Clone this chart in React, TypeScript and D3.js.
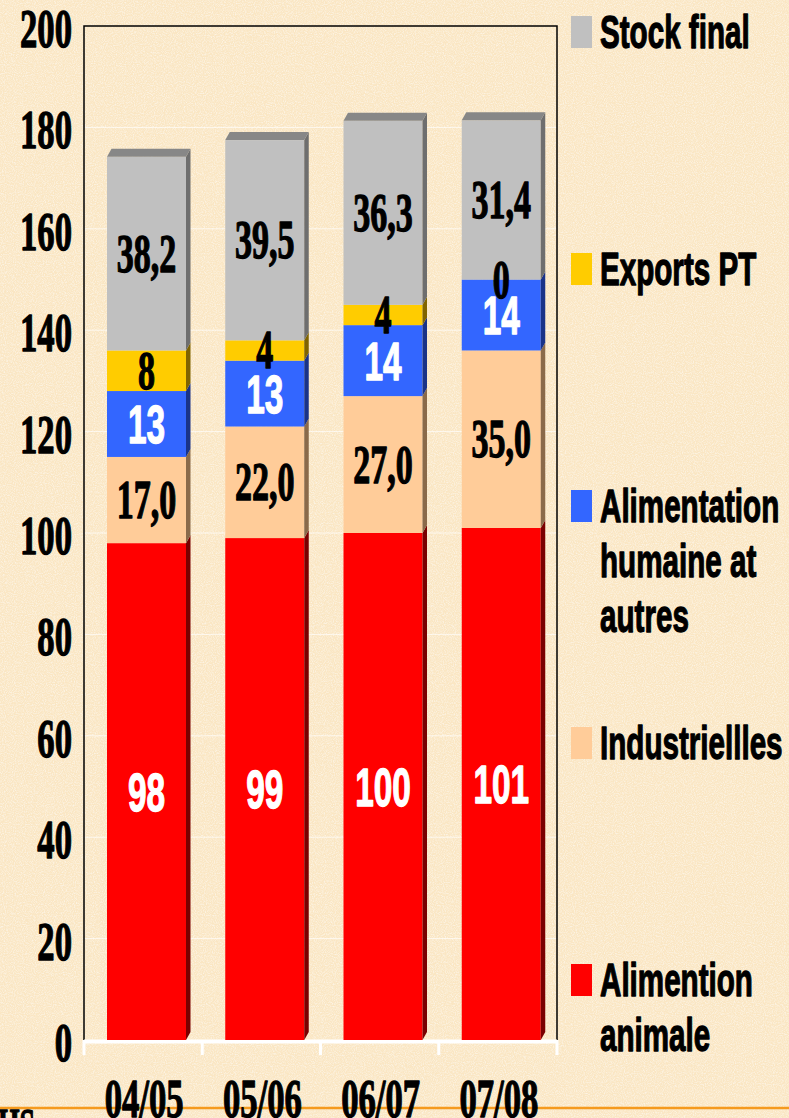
import React, { useEffect } from 'react';
import { scaleLinear, scaleBand, formatLocale, stack } from 'd3';

// campaigns
const seasons = ['04/05', '05/06', '06/07', '07/08'];

// series values, bottom to top of each bar
const alimAnimale = [98, 99, 100, 101];
const industrielles = [17.0, 22.0, 27.0, 35.0];
const alimHumaine = [13, 13, 14, 14];
const exportsPT = [8, 4, 4, 0];
const stockFinal = [38.2, 39.5, 36.3, 31.4];

const yTicks = [0, 20, 40, 60, 80, 100, 120, 140, 160, 180, 200];

const W = 789;
const H = 1118;
const SX = 0.63; // everything in the original is squeezed horizontally

const fr = formatLocale({ decimal: ',', thousands: ' ', grouping: [3], currency: ['', ''] });
const f0 = fr.format('.0f');
const f1 = fr.format('.1f');

const series = [
  { key: 'animale', name: ['Alimention', 'animale'], values: alimAnimale, fill: '#ff0000', side: '#7a0000', label: '#ffffff', sans: true, fmt: f0 },
  { key: 'indus', name: ['Industriellles'], values: industrielles, fill: '#ffcc99', side: '#8a6a4a', label: '#000000', sans: false, fmt: f1 },
  { key: 'humaine', name: ['Alimentation', 'humaine at', 'autres'], values: alimHumaine, fill: '#3366ff', side: '#1a3388', label: '#ffffff', sans: true, fmt: f0 },
  { key: 'exports', name: ['Exports PT'], values: exportsPT, fill: '#ffcc00', side: '#806400', label: '#000000', sans: false, fmt: f0 },
  { key: 'stock', name: ['Stock final'], values: stockFinal, fill: '#c0c0c0', side: '#6e6e6e', label: '#000000', sans: false, fmt: f1 },
];

const SERIF = '"Liberation Serif", "Times New Roman", serif';
const SANS = '"Liberation Sans", Arial, sans-serif';

const Txt = ({ x, y, size, family, fill = '#000', anchor = 'start', children }: any) => (
  <text
    transform={`translate(${x},${y}) scale(${SX},1)`}
    fontSize={size}
    fontFamily={family}
    fontWeight="bold"
    fill={fill}
    stroke={fill}
    strokeWidth={1.3}
    strokeLinejoin="round"
    textAnchor={anchor}
  >
    {children}
  </text>
);

const App = () => {
  useEffect(() => {
    document.body.style.margin = '0';
  }, []);

  const left = 84;
  const right = 557;
  const y = scaleLinear().domain([0, 200]).range([1040, 26]);
  const x = scaleBand().domain(seasons).range([left, right]);
  const barOff = 23;
  const barW = 79;
  const dx = 4.5;
  const dy = 8;

  const rows = seasons.map((s, i) => {
    const r: any = { season: s };
    series.forEach((se) => (r[se.key] = se.values[i]));
    return r;
  });
  const stacked = stack().keys(series.map((s) => s.key))(rows);

  return (
    <svg width={W} height={H} style={{ display: 'block' }} xmlns="http://www.w3.org/2000/svg">
      <defs>
        <filter id="grain" x="0" y="0" width="100%" height="100%">
          <feTurbulence type="fractalNoise" baseFrequency="0.9" numOctaves="2" seed="3" result="n" />
          <feColorMatrix
            in="n"
            type="matrix"
            values="0 0 0 0 1  0 0 0 0 1  0 0 0 0 1  0 0 0 -2.2 1.35"
          />
        </filter>
      </defs>
      <rect width={W} height={H} fill="#fae6c3" />
      <rect width={W} height={H} filter="url(#grain)" opacity={0.55} />

      {/* gridlines */}
      {yTicks.filter((t) => t > 0 && t < 200).map((t) => (
        <line key={t} x1={left} x2={right} y1={y(t)} y2={y(t)} stroke="#ffffff" strokeOpacity={0.7} strokeWidth={1} />
      ))}

      {/* frame */}
      <path d={`M${left},${y(0)}V${y(200)}H${right}V${y(0)}`} fill="none" stroke="#000" strokeWidth={1.5} />

      {/* floor */}
      <line x1={left} x2={right} y1={y(0) + 1.5} y2={y(0) + 1.5} stroke="#ffffff" strokeWidth={4} />
      {[...seasons.map((s) => x(s) as number), right].map((v, i) => (
        <line key={i} x1={v} x2={v} y1={y(0)} y2={y(0) + 15} stroke="#ffffff" strokeWidth={3} />
      ))}

      {/* bars */}
      {stacked.map((layer, li) => {
        const se = series[li];
        return (
          <g key={se.key}>
            {layer.map((d, i) => {
              const x0 = (x(seasons[i]) as number) + barOff;
              const x1 = x0 + barW;
              const yt = y(d[1]);
              const yb = y(d[0]);
              if (d[1] - d[0] <= 0) return null;
              return (
                <g key={i}>
                  <rect x={x0} y={yt} width={barW} height={yb - yt} fill={se.fill} />
                  <path d={`M${x1},${yb}L${x1 + dx},${yb - dy}V${yt - dy}L${x1},${yt}Z`} fill={se.side} />
                  {li === series.length - 1 && (
                    <path d={`M${x0},${yt}L${x0 + dx},${yt - dy}H${x1 + dx}L${x1},${yt}Z`} fill="#878787" />
                  )}
                </g>
              );
            })}
          </g>
        );
      })}

      {/* data labels */}
      {stacked.map((layer, li) => {
        const se = series[li];
        return (
          <g key={se.key}>
            {layer.map((d, i) => {
              const cx = (x(seasons[i]) as number) + barOff + barW / 2;
              const cy = y((d[0] + d[1]) / 2);
              return (
                <Txt
                  key={i}
                  x={cx}
                  y={cy + (se.sans ? 19 : 18)}
                  size={se.sans ? 53 : 54}
                  family={se.sans ? SANS : SERIF}
                  fill={se.label}
                  anchor="middle"
                >
                  {se.fmt(se.values[i])}
                </Txt>
              );
            })}
          </g>
        );
      })}

      {/* y axis labels */}
      {yTicks.map((t) => (
        <Txt key={t} x={72} y={y(t) + 21} size={55} family={SERIF} anchor="end">
          {t}
        </Txt>
      ))}

      {/* bottom rule */}
      <line x1={0} x2={W} y1={1108} y2={1108} stroke="#f59a1e" strokeWidth={2.5} />
      <Txt x={-2} y={1139} size={44} family={SERIF} anchor="start">HS</Txt>

      {/* x labels */}
      {seasons.map((s) => (
        <Txt key={s} x={(x(s) as number) + x.bandwidth() / 2 + 1} y={1117} size={55} family={SERIF} anchor="middle">
          {s}
        </Txt>
      ))}

      {/* legend */}
      {[...series].reverse().map((se, i) => {
        const top = 16 + i * 237;
        return (
          <g key={se.key}>
            <rect x={571} y={top} width={21} height={32} fill={se.fill} />
            {se.name.map((line, j) => (
              <Txt key={j} x={600} y={top + 32 + j * 55} size={47} family={SANS}>
                {line}
              </Txt>
            ))}
          </g>
        );
      })}
    </svg>
  );
};

export default App;
